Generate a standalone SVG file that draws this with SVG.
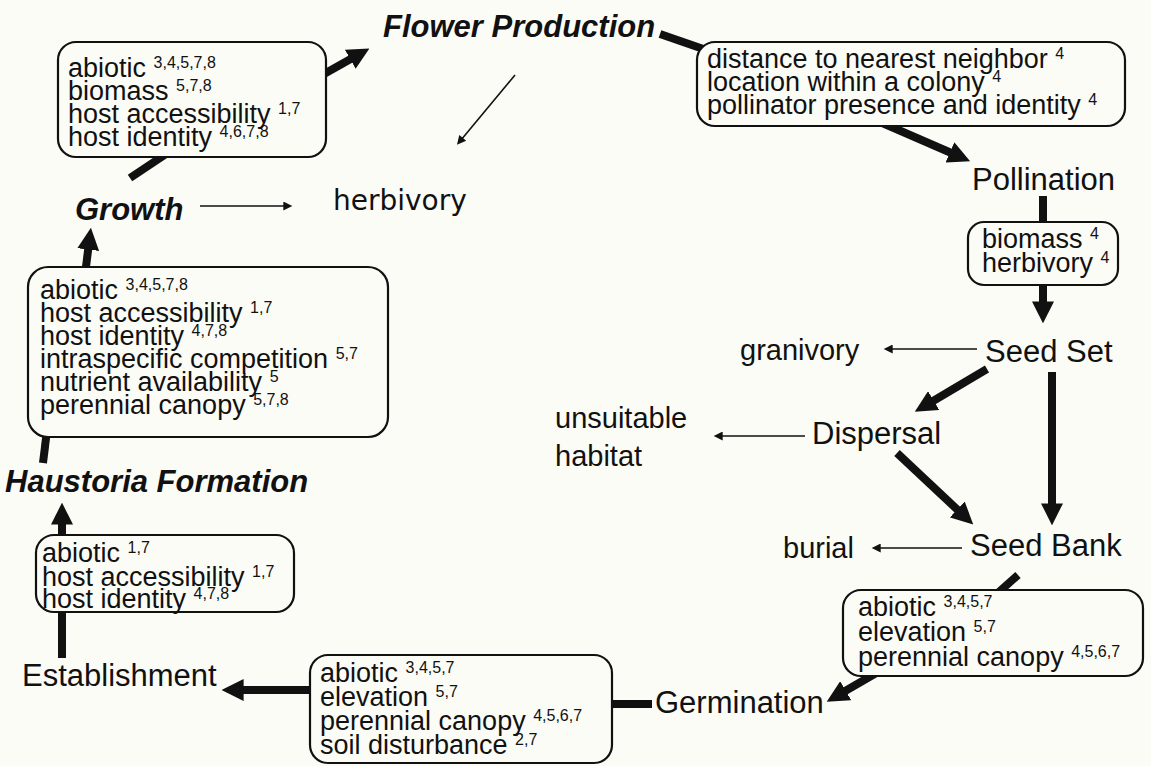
<svg xmlns="http://www.w3.org/2000/svg" width="1151" height="766" viewBox="0 0 1151 766">
<defs>
<style>
.bg{fill:#fcfcf7}
.box{fill:#fcfcf7;stroke:#111;stroke-width:2.2}
.t{font-family:"Liberation Sans",Arial,sans-serif;font-size:27px;fill:#111}
.s{font-size:16px}
.lab{font-family:"Liberation Sans",Arial,sans-serif;font-size:31px;fill:#111}
.bi{font-family:"Liberation Sans",Arial,sans-serif;font-size:31px;font-weight:bold;font-style:italic;fill:#111}
.side{font-family:"Liberation Sans",Arial,sans-serif;font-size:29px;fill:#111}
.hb{font-family:"DejaVu Sans",sans-serif;font-size:28px;fill:#111}
.thick{stroke:#111;stroke-width:8;fill:none}
.thickh{stroke:#111;stroke-width:8;fill:none;marker-end:url(#ah)}
.thin{stroke:#111;stroke-width:1.6;fill:none;marker-end:url(#ahs)}
</style>
<marker id="ah" viewBox="0 0 10 10" refX="3" refY="5" markerWidth="22" markerHeight="22" markerUnits="userSpaceOnUse" orient="auto"><path d="M0,0 L10,5 L0,10 z" fill="#111"/></marker>
<marker id="ahs" viewBox="0 0 10 10" refX="3" refY="5" markerWidth="14" markerHeight="9" markerUnits="userSpaceOnUse" orient="auto"><path d="M0,0 L10,5 L0,10 z" fill="#111"/></marker>
</defs>
<rect class="bg" x="0" y="0" width="1151" height="766"/>
<g id="connectors">
<path class="thickh" d="M324,74 L356,56"/>
<path class="thick" d="M660,34 L712,52"/>
<path class="thickh" d="M880,122 L956,155"/>
<path class="thick" d="M1043,196 L1043,226"/>
<path class="thickh" d="M1043,283 L1043,308"/>
<path class="thin" d="M977,349 L890,349"/>
<path class="thickh" d="M987,369 L928,404"/>
<path class="thickh" d="M1052,372 L1052,510"/>
<path class="thin" d="M805,436 L720,436"/>
<path class="thickh" d="M897,453 L962,514"/>
<path class="thin" d="M962,548 L878,548"/>
<path class="thick" d="M1018,575 L990,600"/>
<path class="thickh" d="M878,672 L840,694"/>
<path class="thick" d="M652,704 L600,704"/>
<path class="thickh" d="M316,690 L237,690"/>
<path class="thick" d="M62,658 L62,600"/>
<path class="thickh" d="M62,545 L62,518"/>
<path class="thick" d="M43,463 L47,430"/>
<path class="thickh" d="M85,275 L89,243"/>
<path class="thin" d="M200,206 L286,206"/>
<path class="thick" d="M130,178 L175,148"/>
<path class="thin" d="M515,75 L461,140"/>
</g>
<g id="flower"><text class="bi" x="383" y="37">Flower Production</text></g>
<g id="box-growth-flower">
<rect class="box" x="58" y="42" width="268" height="115" rx="18"/>
<text class="t" x="68" y="77">abiotic <tspan class="s" dy="-9">3,4,5,7,8</tspan></text>
<text class="t" x="68" y="100">biomass <tspan class="s" dy="-9">5,7,8</tspan></text>
<text class="t" x="68" y="123">host accessibility <tspan class="s" dy="-9">1,7</tspan></text>
<text class="t" x="68" y="146">host identity <tspan class="s" dy="-9">4,6,7,8</tspan></text>
</g>
<g id="box-flower-poll">
<rect class="box" x="697" y="42" width="428" height="84" rx="18"/>
<text class="t" x="707" y="68">distance to nearest neighbor <tspan class="s" dy="-9">4</tspan></text>
<text class="t" x="707" y="91">location within a colony <tspan class="s" dy="-9">4</tspan></text>
<text class="t" x="707" y="114">pollinator presence and identity <tspan class="s" dy="-9">4</tspan></text>
</g>
<g id="herbivory-top"><text class="hb" x="333" y="210">herbivory</text></g>
<g id="growth"><text class="bi" x="75" y="220">Growth</text></g>
<g id="pollination"><text class="lab" x="972" y="190">Pollination</text></g>
<g id="box-poll-seed">
<rect class="box" x="968" y="222" width="150" height="63" rx="16"/>
<text class="t" x="982" y="248">biomass <tspan class="s" dy="-9">4</tspan></text>
<text class="t" x="982" y="272">herbivory <tspan class="s" dy="-9">4</tspan></text>
</g>
<g id="seedset"><text class="lab" x="985" y="362">Seed Set</text></g>
<g id="granivory"><text class="side" x="740" y="360">granivory</text></g>
<g id="box-haus-growth">
<rect class="box" x="28" y="267" width="360" height="170" rx="20"/>
<text class="t" x="40" y="299">abiotic <tspan class="s" dy="-9">3,4,5,7,8</tspan></text>
<text class="t" x="40" y="322">host accessibility <tspan class="s" dy="-9">1,7</tspan></text>
<text class="t" x="40" y="345">host identity <tspan class="s" dy="-9">4,7,8</tspan></text>
<text class="t" x="40" y="368">intraspecific competition <tspan class="s" dy="-9">5,7</tspan></text>
<text class="t" x="40" y="391">nutrient availability <tspan class="s" dy="-9">5</tspan></text>
<text class="t" x="40" y="414">perennial canopy <tspan class="s" dy="-9">5,7,8</tspan></text>
</g>
<g id="dispersal"><text class="lab" x="812" y="444">Dispersal</text></g>
<g id="unsuitable"><text class="side" x="555" y="428">unsuitable</text><text class="side" x="555" y="466">habitat</text></g>
<g id="haustoria"><text class="bi" x="5" y="492">Haustoria Formation</text></g>
<g id="seedbank"><text class="lab" x="970" y="556">Seed Bank</text></g>
<g id="burial"><text class="side" x="783" y="558">burial</text></g>
<g id="box-est-haus">
<rect class="box" x="36" y="535" width="258" height="77" rx="18"/>
<text class="t" x="42" y="562">abiotic <tspan class="s" dy="-9">1,7</tspan></text>
<text class="t" x="42" y="586">host accessibility <tspan class="s" dy="-9">1,7</tspan></text>
<text class="t" x="42" y="608">host identity <tspan class="s" dy="-9">4,7,8</tspan></text>
</g>
<g id="box-bank-germ">
<rect class="box" x="843" y="590" width="300" height="86" rx="18"/>
<text class="t" x="858" y="616">abiotic <tspan class="s" dy="-9">3,4,5,7</tspan></text>
<text class="t" x="858" y="641">elevation <tspan class="s" dy="-9">5,7</tspan></text>
<text class="t" x="858" y="666">perennial canopy <tspan class="s" dy="-9">4,5,6,7</tspan></text>
</g>
<g id="establishment"><text class="lab" x="22" y="686">Establishment</text></g>
<g id="germination"><text class="lab" x="655" y="713">Germination</text></g>
<g id="box-germ-est">
<rect class="box" x="310" y="655" width="302" height="108" rx="18"/>
<text class="t" x="320" y="682">abiotic <tspan class="s" dy="-9">3,4,5,7</tspan></text>
<text class="t" x="320" y="706">elevation <tspan class="s" dy="-9">5,7</tspan></text>
<text class="t" x="320" y="730">perennial canopy <tspan class="s" dy="-9">4,5,6,7</tspan></text>
<text class="t" x="320" y="754">soil disturbance <tspan class="s" dy="-9">2,7</tspan></text>
</g>
</svg>
